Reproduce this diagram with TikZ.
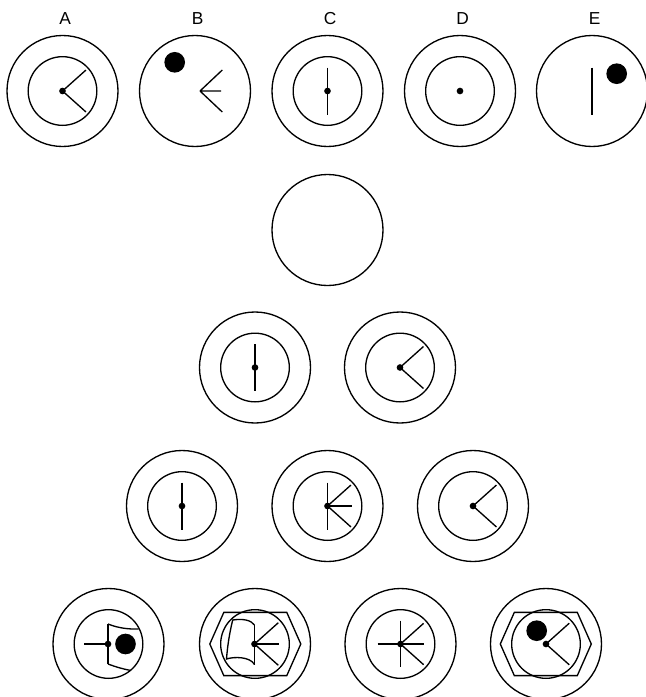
\documentclass[tikz,border=0pt]{standalone}
\usepackage{fontspec}
\setsansfont{Liberation Sans}
\usetikzlibrary{positioning}

\begin{document}
\begin{tikzpicture}[
    x=0.75pt, y=-0.75pt,
    line width=1pt,
    ring/.style={circle, draw, minimum size=83.25pt, inner sep=0pt},
    core/.style={circle, draw, minimum size=51.5pt, inner sep=0pt},
    pin/.style={circle, fill, minimum size=5pt, inner sep=0pt},
    blob/.style={circle, fill, minimum size=15.5pt, inner sep=0pt},
    lab/.style={font=\sffamily\fontsize{13}{15}\selectfont, inner sep=0pt}
]
\useasboundingbox (0,0) rectangle (646,697);

% top row: the five answers
\node[ring] (A) at (62.5,91) {};
\node[core] (Acore) at (A) {};
\node[pin] (Apin) at (A) {};
\foreach \a in {41.8,-41.8} \draw (Apin.center) -- ++(\a:31.5);

\node[ring] (B) at (195,91) {};
\node[blob] (Bblob) at (174.7,62.3) {};
\coordinate (Btip) at (200,91);
\draw (Btip) -- ++(22.3,-21) (Btip) -- ++(21,0) (Btip) -- ++(22.3,21);

\node[ring] (C) at (327.5,91) {};
\node[core] (Ccore) at (C) {};
\node[pin] (Cpin) at (C) {};
\draw (Cpin.center) ++(0,-23.5) -- ++(0,47);

\node[ring] (D) at (460,91) {};
\node[core] (Dcore) at (D) {};
\node[pin] (Dpin) at (D) {};

\node[ring] (E) at (592,91) {};
\draw (E.center) ++(0,-23.5) -- ++(0,47);
\node[blob] (Eblob) at (616.7,73.7) {};

% labels over the answers
\foreach \n in {A,B,C,D,E}
  \node[lab, above=7.4pt of \n, xshift=2pt] (lab\n) {\n};

% the empty one
\node[ring] (Q) at (327.5,230) {};

% second row
\node[ring] (R1) at (255,367.5) {};
\node[core] (R1core) at (R1) {};
\node[pin] (R1pin) at (R1) {};
\draw (R1pin.center) ++(0,-23.5) -- ++(0,47);

\node[ring] (R2) at (400,367.5) {};
\node[core] (R2core) at (R2) {};
\node[pin] (R2pin) at (R2) {};
\foreach \a in {41.8,-41.8} \draw (R2pin.center) -- ++(\a:31.5);

% third row
\node[ring] (S1) at (182,506) {};
\node[core] (S1core) at (S1) {};
\node[pin] (S1pin) at (S1) {};
\draw (S1pin.center) ++(0,-23.5) -- ++(0,47);

\node[ring] (S2) at (327.5,506) {};
\node[core] (S2core) at (S2) {};
\node[pin] (S2pin) at (S2) {};
\draw (S2pin.center) ++(0,-23.5) -- ++(0,47);
\draw (S2pin.center) -- ++(24,0);
\foreach \a in {41.8,-41.8} \draw (S2pin.center) -- ++(\a:31.5);

\node[ring] (S3) at (473,506) {};
\node[core] (S3core) at (S3) {};
\node[pin] (S3pin) at (S3) {};
\foreach \a in {41.8,-41.8} \draw (S3pin.center) -- ++(\a:31.5);

% bottom row
\node[ring] (T1) at (108.5,644) {};
\node[core] (T1core) at (T1) {};
\node[pin] (T1pin) at (108,644) {};
\draw (T1pin.center) -- ++(-24,0);
\draw (108,624) -- (108,664);
\draw (108,624) .. controls (118,628) and (128,629.3) .. (138.5,629);
\draw (108,664) .. controls (116,667) and (123,669) .. (130,670.3);
\node[blob] (T1blob) at (125.5,644) {};

\node[ring] (T2) at (255,644) {};
\node[core] (T2core) at (T2) {};
\draw (209.8,644) -- (223.8,612.4) -- (286.8,612.4) -- (300.8,644)
      -- (286.8,675.6) -- (223.8,675.6) -- cycle;
\draw (254.5,625) -- (254.5,664.5);
\draw (254.5,625) .. controls (251,620) and (243,618.5) .. (232.7,620)
      .. controls (229.5,633) and (227.5,646) .. (226.5,659)
      .. controls (234,656.5) and (250,656.5) .. (254.5,664.5);
\node[pin] (T2pin) at (254.5,644) {};
\draw (T2pin.center) -- ++(24.5,0);
\foreach \a in {41.8,-41.8} \draw (T2pin.center) -- ++(\a:32);

\node[ring] (T3) at (400.5,644) {};
\node[core] (T3core) at (T3) {};
\node[pin] (T3pin) at (T3) {};
\draw (T3pin.center) ++(0,-23.3) -- ++(0,46.6);
\draw (T3pin.center) ++(-23,0) -- ++(46,0);
\foreach \a in {41.8,-41.8} \draw (T3pin.center) -- ++(\a:31);

\node[ring] (T4) at (546,644) {};
\node[core] (T4core) at (T4) {};
\draw (500.3,644) -- (514.3,612.4) -- (577.3,612.4) -- (591.3,644)
      -- (577.3,675.6) -- (514.3,675.6) -- cycle;
\node[blob] (T4blob) at (536.7,630.7) {};
\node[pin] (T4pin) at (T4) {};
\foreach \a in {41.8,-41.8} \draw (T4pin.center) -- ++(\a:31.2);

\end{tikzpicture}
\end{document}
